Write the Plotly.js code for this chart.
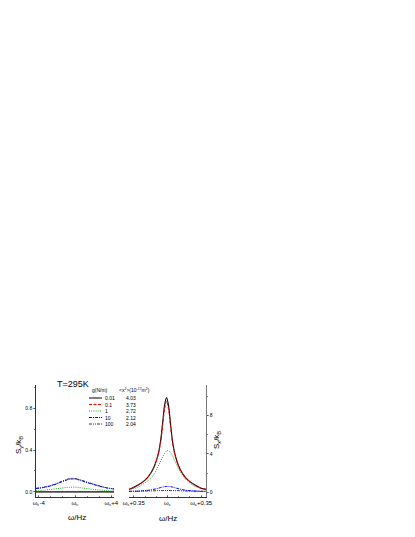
<!DOCTYPE html>
<html>
<head>
<meta charset="utf-8">
<script src="https://cdn.plot.ly/plotly-3.0.1.min.js"></script>
<style>html,body{margin:0;padding:0;background:#fff;}#plot{width:415px;height:537px;}</style>
</head>
<body>
<div id="plot"></div>
<script>
// ---- data ----
const gLabels = ["0.01", "0.1", "1", "10", "100"];
const x2Values = ["4.03", "3.73", "2.72", "2.12", "2.04"];

// left panel: S_y / k_B vs omega - omega_c (Hz)
const xLeft = [-4.3, -3.5, -2.5, -1.5, -0.8, -0.3, 0.3, 0.8, 1.5, 2.5, 3.5, 4.3];
const syG001 = [0.001, 0.001, 0.001, 0.001, 0.001, 0.001, 0.001, 0.001, 0.001, 0.001, 0.001, 0.001];
const syG01 = [0.003, 0.003, 0.004, 0.004, 0.005, 0.005, 0.005, 0.005, 0.004, 0.004, 0.003, 0.003];
const syG1 = [0.012, 0.017, 0.026, 0.037, 0.044, 0.046, 0.044, 0.038, 0.030, 0.020, 0.013, 0.010];
const syG10 = [0.032, 0.042, 0.062, 0.095, 0.117, 0.124, 0.118, 0.104, 0.085, 0.060, 0.038, 0.028];
const syG100 = [0.035, 0.045, 0.066, 0.100, 0.123, 0.130, 0.124, 0.110, 0.090, 0.063, 0.040, 0.030];

// right panel: S_x / k_B vs omega - omega_c (Hz)
const xRight = [-0.4, -0.37, -0.31, -0.26, -0.21, -0.17, -0.13, -0.11, -0.09, -0.07, -0.05, -0.03, -0.01,
                0.01, 0.03, 0.05, 0.07, 0.09, 0.11, 0.15, 0.19, 0.24, 0.29, 0.35, 0.4];
const sxG001 = [0.30, 0.42, 0.72, 1.05, 1.50, 2.05, 2.90, 3.50, 4.30, 5.50, 7.30, 9.10, 9.90,
                9.10, 7.30, 5.50, 4.30, 3.50, 2.90, 2.05, 1.50, 1.05, 0.72, 0.42, 0.30];
const sxG01 = [0.30, 0.42, 0.70, 1.03, 1.48, 2.02, 2.85, 3.45, 4.20, 5.30, 7.00, 8.70, 9.50,
               8.70, 7.00, 5.30, 4.20, 3.45, 2.85, 2.02, 1.48, 1.03, 0.70, 0.42, 0.30];
const sxG1 = [0.25, 0.33, 0.50, 0.80, 1.15, 1.50, 2.05, 2.45, 2.85, 3.25, 3.70, 4.05, 4.30,
              4.35, 4.15, 3.85, 3.40, 2.95, 2.55, 1.90, 1.35, 0.90, 0.60, 0.38, 0.25];
const sxG10 = [0.08, 0.09, 0.11, 0.14, 0.19, 0.25, 0.33, 0.38, 0.43, 0.49, 0.54, 0.58, 0.60,
               0.60, 0.58, 0.54, 0.49, 0.43, 0.38, 0.28, 0.20, 0.15, 0.12, 0.09, 0.08];
const sxG100 = [0.10, 0.10, 0.11, 0.12, 0.13, 0.14, 0.15, 0.16, 0.16, 0.17, 0.17, 0.18, 0.18,
                0.18, 0.18, 0.17, 0.17, 0.16, 0.16, 0.15, 0.13, 0.12, 0.11, 0.10, 0.10];

const leftTickVals = [-4, 0, 4];
const leftTickText = ["ω<sub>c</sub>-4", "ω<sub>c</sub>", "ω<sub>c</sub>+4"];
const rightTickVals = [-0.35, 0, 0.35];
const rightTickText = ["ω<sub>c</sub>+0.35", "ω<sub>c</sub>", "ω<sub>c</sub>+0.35"];

// ---- styles ----
const styles = [
  {color: "#000000", dash: "solid", width: 1.1},
  {color: "#ff0000", dash: "3px,1.5px", width: 1},
  {color: "#22aa22", dash: "1px,1.2px", width: 1},
  {color: "#0000ff", dash: "3px,1px,1px,1px", width: 1},
  {color: "#333344", dash: "3px,1px,1px,1px,1px,1px", width: 1}
];
const leftSeries = [syG001, syG01, syG1, syG10, syG100];
const rightSeries = [sxG001, sxG01, sxG1, sxG10, sxG100];

const traces = [];
[4, 3, 2, 0, 1].forEach(i => {
  traces.push({x: xLeft, y: leftSeries[i], xaxis: "x", yaxis: "y", mode: "lines",
    line: {color: styles[i].color, dash: styles[i].dash, width: styles[i].width, shape: "spline"},
    showlegend: false, hoverinfo: "skip"});
  traces.push({x: xRight, y: rightSeries[i], xaxis: "x2", yaxis: "y2", mode: "lines",
    line: {color: styles[i].color, dash: styles[i].dash, width: styles[i].width, shape: "spline"},
    showlegend: false, hoverinfo: "skip"});
});

const W = 415, H = 537;
const px = v => v / W;
const py = v => 1 - v / H;

const fam = "Liberation Sans, Arial, sans-serif";
const f = s => ({family: fam, size: s, color: "#000"});

const shapes = [];
const annotations = [];
const rowY = [398, 404.5, 411, 417.5, 424];
gLabels.forEach((lab, i) => {
  shapes.push({type: "line", xref: "paper", yref: "paper",
    x0: px(89), x1: px(102), y0: py(rowY[i]), y1: py(rowY[i]),
    line: {color: i === 0 ? "#555" : styles[i].color, dash: styles[i].dash, width: i === 0 ? 1.5 : 1}});
  annotations.push({xref: "paper", yref: "paper", x: px(103), y: py(rowY[i]),
    xanchor: "left", yanchor: "middle", text: lab, showarrow: false, font: f(5)});
  annotations.push({xref: "paper", yref: "paper", x: px(124), y: py(rowY[i]),
    xanchor: "left", yanchor: "middle", text: x2Values[i], showarrow: false, font: f(5)});
});
annotations.push({xref: "paper", yref: "paper", x: px(90), y: py(389.5), xanchor: "left", yanchor: "middle",
  text: "g(N/m)", showarrow: false, font: f(5)});
annotations.push({xref: "paper", yref: "paper", x: px(117), y: py(389.5), xanchor: "left", yanchor: "middle",
  text: "&lt;x<sup>2</sup>&gt;(10<sup>-17</sup>m<sup>2</sup>)", showarrow: false, font: f(5)});
annotations.push({xref: "paper", yref: "paper", x: px(55), y: py(383.5), xanchor: "left", yanchor: "middle",
  text: "T=295K", showarrow: false, font: f(9)});
annotations.push({xref: "paper", yref: "paper", x: px(77), y: py(517), xanchor: "center", yanchor: "middle",
  text: "ω/Hz", showarrow: false, font: f(8)});
annotations.push({xref: "paper", yref: "paper", x: px(168), y: py(518), xanchor: "center", yanchor: "middle",
  text: "ω/Hz", showarrow: false, font: f(8)});
annotations.push({xref: "paper", yref: "paper", x: px(19), y: py(445), xanchor: "center", yanchor: "middle",
  text: "S<sub>y</sub>/k<sub>B</sub>", textangle: -90, showarrow: false, font: f(8)});
annotations.push({xref: "paper", yref: "paper", x: px(217), y: py(440), xanchor: "center", yanchor: "middle",
  text: "S<sub>x</sub>/k<sub>B</sub>", textangle: -90, showarrow: false, font: f(8)});

const yDomain = [1 - 497 / H, 1 - 385 / H];

const layout = {
  width: W, height: H,
  margin: {l: 0, r: 0, t: 0, b: 0},
  paper_bgcolor: "#fff", plot_bgcolor: "rgba(0,0,0,0)",
  showlegend: false,
  font: f(5),
  xaxis: {domain: [px(36), px(114)], range: [-4.3, 4.3], showgrid: false, zeroline: false,
    showline: true, linecolor: "#000", linewidth: 0.8, ticks: "inside", ticklen: 2.5, tickwidth: 0.6,
    tickmode: "array", tickvals: leftTickVals, ticktext: leftTickText, tickfont: f(6),
    minor: {ticks: "inside", ticklen: 1.5, tickwidth: 0.5, tickmode: "linear", tick0: 0, dtick: 4 / 3, tickcolor: "#000"},
    anchor: "y"},
  yaxis: {domain: yDomain, range: [-0.048, 1.02], showgrid: false, zeroline: false,
    showline: true, linecolor: "#000", linewidth: 0.8, ticks: "outside", ticklen: 2, tickwidth: 0.6,
    tickmode: "array", tickvals: [0, 0.4, 0.8], ticktext: ["0.0", "0.4", "0.8"], tickfont: f(5),
    minor: {ticks: "outside", ticklen: 1.5, tickwidth: 0.5, tickmode: "linear", tick0: 0, dtick: 0.2, tickcolor: "#000"},
    anchor: "x"},
  xaxis2: {domain: [px(129), px(206)], range: [-0.4, 0.4], showgrid: false, zeroline: false,
    showline: true, linecolor: "#000", linewidth: 0.8, ticks: "inside", ticklen: 2.5, tickwidth: 0.6,
    tickmode: "array", tickvals: rightTickVals, ticktext: rightTickText, tickfont: f(6),
    minor: {ticks: "inside", ticklen: 1.5, tickwidth: 0.5, tickmode: "linear", tick0: 0, dtick: 0.35 / 3, tickcolor: "#000"},
    anchor: "y2"},
  yaxis2: {domain: yDomain, range: [-0.5, 11.2], side: "right", showgrid: false, zeroline: false,
    showline: true, linecolor: "#555", linewidth: 0.8, ticks: "outside", ticklen: 2, tickwidth: 0.6,
    tickmode: "array", tickvals: [0, 4, 8], ticktext: ["0", "4", "8"], tickfont: f(5),
    minor: {ticks: "outside", ticklen: 1.5, tickwidth: 0.5, tickmode: "linear", tick0: 0, dtick: 2, tickcolor: "#000"},
    anchor: "x2"},
  shapes: shapes,
  annotations: annotations
};

Plotly.newPlot("plot", traces, layout, {staticPlot: true, displayModeBar: false});
</script>
</body>
</html>
